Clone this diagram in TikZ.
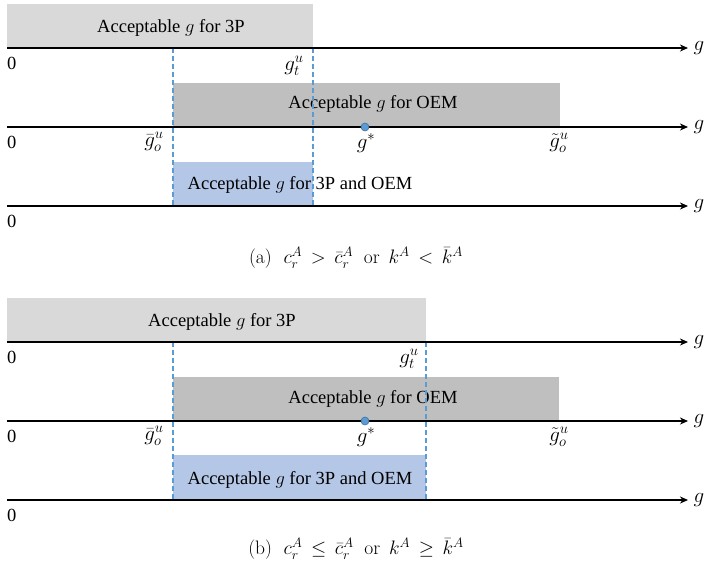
\documentclass[tikz,border=0pt]{standalone}
\usepackage{fix-cm}
\usepackage{amsmath,amssymb}
\usepackage{fontspec}
\usepackage{tikz}
\usetikzlibrary{arrows.meta,positioning}
\newfontfamily\boxfont{Liberation Serif}
\definecolor{lightgrey}{HTML}{D9D9D9}
\definecolor{darkgrey}{HTML}{BFBFBF}
\definecolor{paleblue}{HTML}{B4C7E7}
\definecolor{markblue}{HTML}{5B9BD5}
\definecolor{markedge}{HTML}{41719C}
\tikzset{
  axisline/.style={draw=black,line width=1.3pt,
                   -{Stealth[length=8pt,width=7pt,inset=2.5pt]}},
  bandtext/.style={font=\boxfont\fontsize{18.5}{20}\selectfont,inner sep=0pt},
  zerolabel/.style={font=\boxfont\fontsize{18.5}{20}\selectfont,inner sep=0pt,anchor=west},
  ticklabel/.style={font=\fontsize{21}{23}\selectfont,inner sep=0pt},
  axisname/.style={font=\fontsize{21}{23}\selectfont,inner sep=0pt,anchor=west,xshift=5pt},
  guide/.style={draw=markblue,line width=1.1pt,dash pattern=on 5pt off 3pt},
  optdot/.style={circle,fill=markblue,draw=markedge,line width=0.6pt,
                 minimum size=8pt,inner sep=0pt},
  captext/.style={font=\fontsize{19.5}{21}\selectfont,inner sep=0pt}
}

\begin{document}
\begin{tikzpicture}[x=1pt,y=-1pt]
  \useasboundingbox (0,0) rectangle (704,566);

  % (a) upper panel
  \begin{scope}
    \coordinate (a1s) at (7,48);  \coordinate (a1e) at (688,48);
    \coordinate (a2s) at (7,127); \coordinate (a2e) at (688,127);
    \coordinate (a3s) at (7,206); \coordinate (a3e) at (688,206);
    \coordinate (loa) at (173,48); \coordinate (loa') at (173,206);
    \coordinate (upa) at (313,48); \coordinate (upa') at (313,206);

    \fill[lightgrey] (7,4) rectangle (313,47);
    \fill[darkgrey] (173,83) rectangle (560,126);
    \fill[paleblue] (173,162) rectangle (313,205);

    \node[bandtext] (tpa) at (171,28) {Acceptable $g$ for 3P};
    \node[bandtext] (oema) at (373,104) {Acceptable $g$ for OEM};
    \node[bandtext] (botha) at (300,185) {Acceptable $g$ for 3P and OEM};

    \draw[guide] (loa) -- (loa');
    \draw[guide] (upa) -- (upa');

    \draw[axisline] (a1s) -- (a1e) node[axisname] (ga1) {$g$};
    \draw[axisline] (a2s) -- (a2e) node[axisname] (ga2) {$g$};
    \draw[axisline] (a3s) -- (a3e) node[axisname] (ga3) {$g$};

    \node[zerolabel] (z1a) at (7,63) {0};
    \node[zerolabel] (z2a) at (7,142) {0};
    \node[zerolabel] (z3a) at (7,221) {0};

    \node[ticklabel] (gta) at (294,66) {$g_t^u$};
    \node[ticklabel] (gba) at (154,142) {$\bar g_o^u$};
    \node[ticklabel] (gsa) at (366,143) {$g^*$};
    \node[ticklabel] (gda) at (559,143) {$\tilde g_o^u$};
    \node[optdot] (dota) at (365,127) {};

    \node[captext] (capa) at (356,258)
      {(a)\hspace{0.6em}$c_r^A\,>\,\bar c_r^A$\hspace{0.55em}or\hspace{0.45em}$k^A\,<\,\bar k^A$};
  \end{scope}

  % (b) lower panel
  \begin{scope}[shift={(0,294)}]
    \coordinate (b1s) at (7,48);  \coordinate (b1e) at (688,48);
    \coordinate (b2s) at (7,127); \coordinate (b2e) at (688,127);
    \coordinate (b3s) at (7,206); \coordinate (b3e) at (688,206);
    \coordinate (lob) at (173,48); \coordinate (lob') at (173,206);
    \coordinate (upb) at (426,48); \coordinate (upb') at (426,206);

    \fill[lightgrey] (7,4) rectangle (426,47);
    \fill[darkgrey] (173,83) rectangle (559,126);
    \fill[paleblue] (173,161) rectangle (426,205);

    \node[bandtext] (tpb) at (222,28) {Acceptable $g$ for 3P};
    \node[bandtext] (oemb) at (373,105) {Acceptable $g$ for OEM};
    \node[bandtext] (bothb) at (300,186) {Acceptable $g$ for 3P and OEM};

    \draw[guide] (lob) -- (lob');
    \draw[guide] (upb) -- (upb');

    \draw[axisline] (b1s) -- (b1e) node[axisname] (gb1) {$g$};
    \draw[axisline] (b2s) -- (b2e) node[axisname] (gb2) {$g$};
    \draw[axisline] (b3s) -- (b3e) node[axisname] (gb3) {$g$};

    \node[zerolabel] (z1b) at (7,63) {0};
    \node[zerolabel] (z2b) at (7,142) {0};
    \node[zerolabel] (z3b) at (7,221) {0};

    \node[ticklabel] (gtb) at (409,65) {$g_t^u$};
    \node[ticklabel] (gbb) at (154,142) {$\bar g_o^u$};
    \node[ticklabel] (gsb) at (366,143) {$g^*$};
    \node[ticklabel] (gdb) at (559,143) {$\tilde g_o^u$};
    \node[optdot] (dotb) at (365,127) {};

    \node[captext] (capb) at (356,255)
      {(b)\hspace{0.6em}$c_r^A\,\le\,\bar c_r^A$\hspace{0.55em}or\hspace{0.45em}$k^A\,\ge\,\bar k^A$};
  \end{scope}
\end{tikzpicture}
\end{document}
